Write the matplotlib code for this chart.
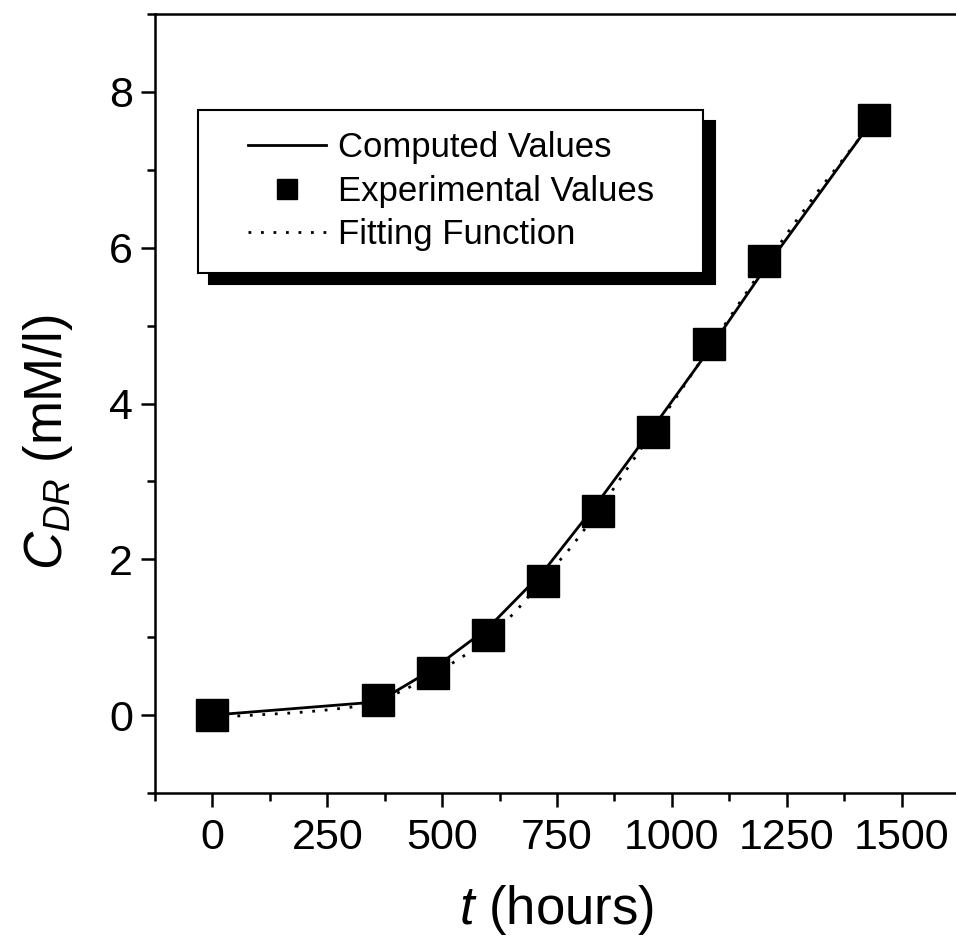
import matplotlib
matplotlib.use("Agg")
import matplotlib.pyplot as plt
from matplotlib.patches import Shadow
from matplotlib.path import Path
from matplotlib.ticker import MultipleLocator

plt.rcParams['font.family'] = ['Liberation Sans', 'DejaVu Sans']
plt.rcParams['mathtext.fontset'] = 'custom'
plt.rcParams['mathtext.rm'] = 'Liberation Sans'
plt.rcParams['mathtext.it'] = 'Liberation Sans:italic'

# ---- data ----
t_exp = [0, 360, 480, 600, 720, 840, 960, 1080, 1200, 1440]
c_exp = [0.0, 0.20, 0.54, 1.03, 1.72, 2.62, 3.63, 4.76, 5.83, 7.64]

t_comp = [0, 360, 480, 600, 720, 840, 960, 1080, 1200, 1440]
c_comp = [0.0, 0.17, 0.59, 1.12, 1.84, 2.74, 3.70, 4.68, 5.71, 7.66]

t_fit = [0, 60, 120, 180, 240, 300, 360, 420, 480, 540, 600, 660, 720,
         780, 840, 900, 960, 1020, 1080, 1140, 1200, 1260, 1320, 1380, 1440]
c_fit = [-0.02, -0.01, 0.01, 0.03, 0.06, 0.10, 0.17, 0.33, 0.52, 0.73, 0.98,
         1.33, 1.74, 2.15, 2.62, 3.14, 3.65, 4.17, 4.70, 5.23, 5.75, 6.26,
         6.74, 7.19, 7.64]

labels = ["Computed Values", "Experimental Values", "Fitting Function"]
x_ticks = [0, 250, 500, 750, 1000, 1250, 1500]
y_ticks = [0, 2, 4, 6, 8]

fig = plt.figure(figsize=(9.56, 9.49), dpi=100)
ax = fig.add_axes([155/956, 156/949, 804/956, 779/949])

ax.plot(t_comp, c_comp, '-', color='black', lw=2.0, label=labels[0], zorder=3)
ax.plot(t_exp, c_exp, linestyle='none', marker='s', ms=23, color='black',
        label=labels[1], zorder=4)
ax.plot(t_fit, c_fit, color='black', lw=2.0, dashes=(1, 3.5),
        label=labels[2], zorder=3)

ax.set_xlim(-125, 1625)
ax.set_ylim(-1, 9)
ax.set_xticks(x_ticks)
ax.set_yticks(y_ticks)
ax.xaxis.set_minor_locator(MultipleLocator(125))
ax.yaxis.set_minor_locator(MultipleLocator(1))

for s in ['left', 'bottom', 'top']:
    ax.spines[s].set_linewidth(1.8)
ax.spines['right'].set_visible(False)
ax.tick_params(which='major', direction='out', length=10, width=1.8,
               labelsize=31)
ax.tick_params(which='minor', direction='out', length=5.5, width=1.8)
ax.tick_params(axis='x', which='major', pad=8)
ax.tick_params(axis='y', which='major', pad=6)
ax.tick_params(top=False, right=False, which='both')

ax.set_xlabel(r'$t$ (hours)', fontsize=38)
ax.xaxis.set_label_coords(0.5, -0.115)
ax.set_ylabel(r'$C_{DR}$ (mM/l)', fontsize=38)
ax.yaxis.set_label_coords(-0.10, 0.45)

# legend box with extra horizontal padding (in display pixels)
EXTRA_X = 28


def wide_box(x0, y0, width, height, mutation_size):
    xa, xb = x0 - EXTRA_X, x0 + width + EXTRA_X
    ya, yb = y0, y0 + height
    return Path([(xa, ya), (xb, ya), (xb, yb), (xa, yb), (xa, ya)],
                closed=True)


leg = ax.legend(loc='upper left', bbox_to_anchor=(0.0883, 0.877),
                borderaxespad=0, fontsize=25, frameon=True, fancybox=False,
                edgecolor='black', framealpha=1, handlelength=2.25,
                handletextpad=0.35, borderpad=0.62, labelspacing=0.3,
                markerscale=0.6)
leg.get_frame().set_linewidth(1.5)
leg.legendPatch.set_boxstyle(wide_box)

fig.canvas.draw()
sh = Shadow(leg.legendPatch, 8, -8, facecolor='black', edgecolor='black',
            alpha=1)
sh.set_zorder(4.9)
ax.add_artist(sh)

fig.savefig('out.png', dpi=100)
